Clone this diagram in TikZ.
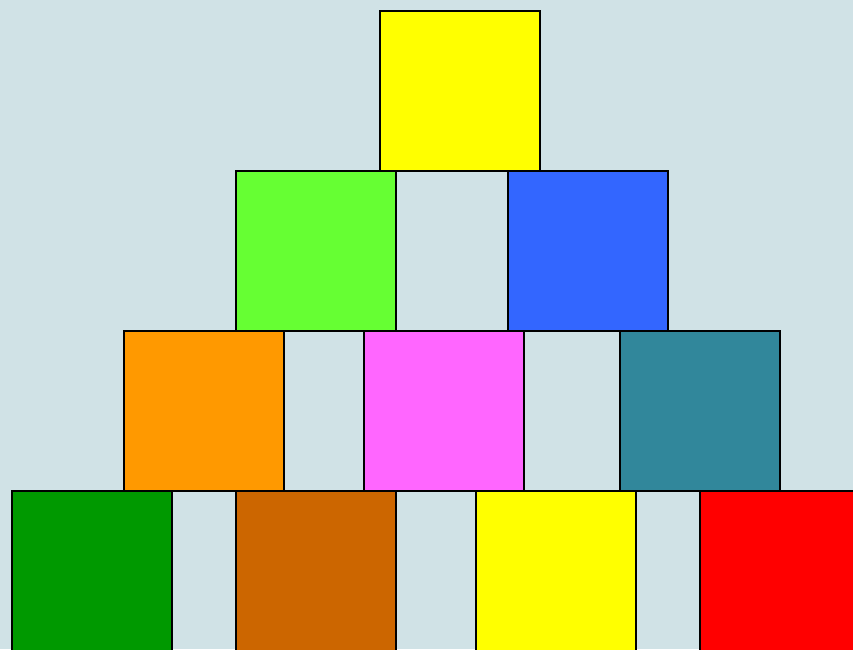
\documentclass[tikz,border=0pt]{standalone}
\definecolor{bgc}{HTML}{D0E2E6}
\definecolor{cyellow}{HTML}{FFFF00}
\definecolor{clime}{HTML}{66FF33}
\definecolor{cblue}{HTML}{3366FF}
\definecolor{corange}{HTML}{FF9900}
\definecolor{cpink}{HTML}{FF66FF}
\definecolor{cteal}{HTML}{31879B}
\definecolor{cgreen}{HTML}{009900}
\definecolor{cbrown}{HTML}{CC6600}
\definecolor{cred}{HTML}{FF0000}
\tikzset{block/.style={draw=black, line width=2pt, inner sep=0pt, minimum width=160pt, minimum height=160pt, anchor=north west}}
\begin{document}
\begin{tikzpicture}[x=1pt,y=-1pt]
\useasboundingbox (0,0) rectangle (853,649);
\fill[bgc] (0,0) rectangle (853,649);
\clip (0,0) rectangle (853,649);
\node[block, fill=cyellow] (t1) at (379,10) {};
\node[block, fill=clime] (r2a) at (235,170) {};
\node[block, fill=cblue] (r2b) at (507,170) {};
\node[block, fill=corange] (r3a) at (123,330) {};
\node[block, fill=cpink] (r3b) at (363,330) {};
\node[block, fill=cteal] (r3c) at (619,330) {};
\node[block, fill=cgreen] (r4a) at (11,490) {};
\node[block, fill=cbrown] (r4b) at (235,490) {};
\node[block, fill=cyellow] (r4c) at (475,490) {};
\node[block, fill=cred] (r4d) at (699,490) {};
\end{tikzpicture}
\end{document}
